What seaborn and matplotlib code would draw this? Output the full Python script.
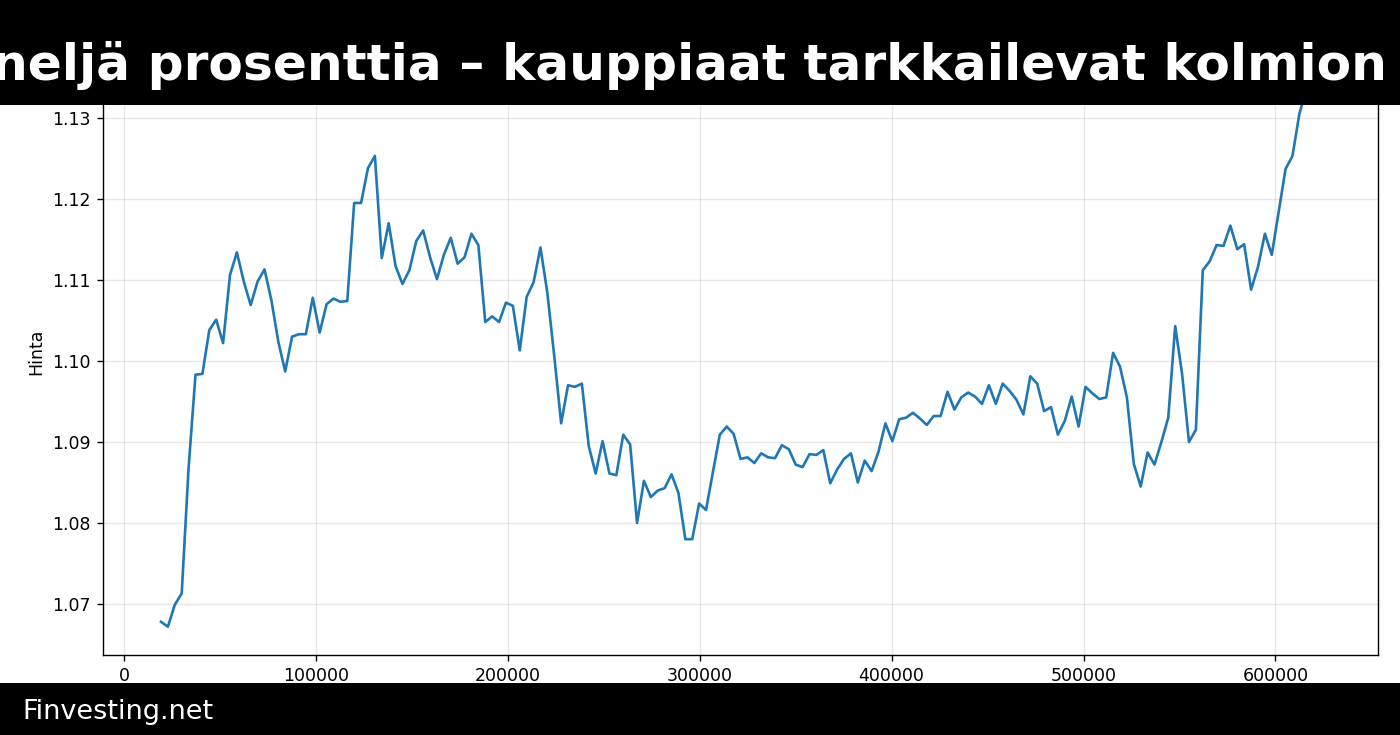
import numpy as np
import seaborn as sns
import matplotlib.pyplot as plt
from matplotlib.patches import Rectangle

# price readings, evenly spaced along x
x_start = 19300
x_step = 3595
prices = [
    1.0678, 1.0672, 1.0699, 1.0713, 1.0868, 1.0983, 1.0984, 1.1038, 1.1051, 1.1022,
    1.1106, 1.1134, 1.1098, 1.1069, 1.1098, 1.1113, 1.1075, 1.1024, 1.0987, 1.1030,
    1.1033, 1.1033, 1.1078, 1.1035, 1.1070, 1.1077, 1.1073, 1.1074, 1.1195, 1.1195,
    1.1238, 1.1253, 1.1127, 1.1170, 1.1117, 1.1095, 1.1112, 1.1148, 1.1161, 1.1128,
    1.1101, 1.1131, 1.1152, 1.1120, 1.1128, 1.1157, 1.1143, 1.1048, 1.1055, 1.1048,
    1.1072, 1.1068, 1.1013, 1.1079, 1.1097, 1.1140, 1.1084, 1.1006, 1.0923, 1.0970,
    1.0968, 1.0972, 1.0895, 1.0861, 1.0901, 1.0861, 1.0859, 1.0909, 1.0897, 1.0800,
    1.0852, 1.0832, 1.0840, 1.0843, 1.0860, 1.0837, 1.0780, 1.0780, 1.0824, 1.0816,
    1.0863, 1.0909, 1.0919, 1.0910, 1.0879, 1.0881, 1.0874, 1.0886, 1.0881, 1.0880,
    1.0896, 1.0891, 1.0872, 1.0869, 1.0885, 1.0884, 1.0890, 1.0849, 1.0866, 1.0879,
    1.0886, 1.0850, 1.0877, 1.0864, 1.0888, 1.0923, 1.0901, 1.0928, 1.0930, 1.0936,
    1.0929, 1.0921, 1.0932, 1.0932, 1.0962, 1.0940, 1.0955, 1.0961, 1.0956, 1.0947,
    1.0970, 1.0947, 1.0972, 1.0963, 1.0952, 1.0934, 1.0981, 1.0972, 1.0938, 1.0943,
    1.0909, 1.0926, 1.0956, 1.0919, 1.0968, 1.0960, 1.0953, 1.0955, 1.1010, 1.0993,
    1.0955, 1.0873, 1.0845, 1.0887, 1.0872, 1.0900, 1.0930, 1.1043, 1.0984, 1.0900,
    1.0915, 1.1112, 1.1123, 1.1143, 1.1142, 1.1167, 1.1138, 1.1144, 1.1088, 1.1116,
    1.1157, 1.1131, 1.1184, 1.1237, 1.1253, 1.1305, 1.1335, 1.1360, 1.1375,
]
x_vals = x_start + x_step * np.arange(len(prices))

title_text = "neljä prosenttia – kauppiaat tarkkailevat kolmion"
footer_text = "Finvesting.net"
y_label = "Hinta"

fig = plt.figure(figsize=(14, 7.35), dpi=100)
ax = fig.add_axes([0.0736, 0.1088, 0.9107, 0.8245])

sns.lineplot(x=x_vals, y=prices, ax=ax, color="#1f77b4", linewidth=1.9)

ax.set_ylim(1.0637, 1.1385)
ax.set_xticks([0, 100000, 200000, 300000, 400000, 500000, 600000])
ax.set_yticks([1.07, 1.08, 1.09, 1.10, 1.11, 1.12, 1.13])
ax.set_yticklabels(["1.07", "1.08", "1.09", "1.10", "1.11", "1.12", "1.13"])
ax.tick_params(labelsize=12.5, length=4.4, width=1.0, pad=4.4)
ax.set_ylabel(y_label, fontsize=12.5, labelpad=5)
ax.grid(True, alpha=0.3, linewidth=1.0)
for s in ax.spines.values():
    s.set_linewidth(1.0)

# black title bar on top, footer bar at the bottom
fig.patches.append(Rectangle((0, 1 - 105 / 735), 1, 105 / 735, transform=fig.transFigure,
                             facecolor="black", edgecolor="none", zorder=10))
fig.patches.append(Rectangle((0, 0), 1, 52 / 735, transform=fig.transFigure,
                             facecolor="black", edgecolor="none", zorder=10))
fig.text(-0.006, 1 - 80 / 735, title_text, color="white", fontsize=36.2, fontweight="bold",
         ha="left", va="baseline", zorder=11)
fig.text(22 / 1400, 1 - 719 / 735, footer_text, color="white", fontsize=19.5,
         ha="left", va="baseline", zorder=11)

fig.savefig("out.png", dpi=100)
